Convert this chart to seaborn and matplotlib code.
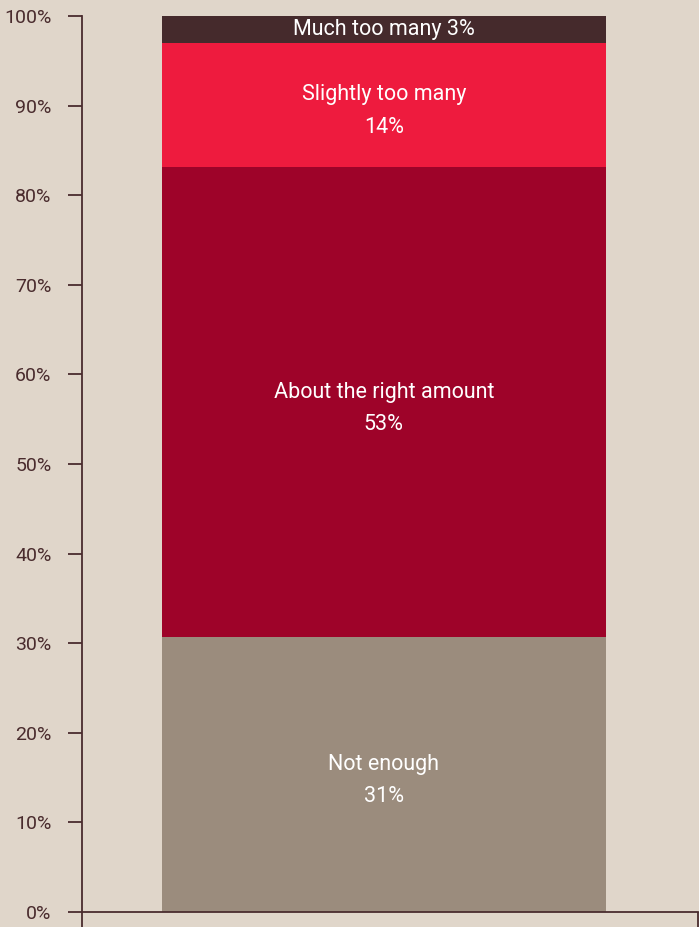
import matplotlib
matplotlib.use("Agg")
import matplotlib.pyplot as plt
import seaborn as sns
import pandas as pd
import numpy as np
from matplotlib.ticker import FixedLocator

# Survey answers, stacked bottom to top
categories = ["Not enough", "About the right amount", "Slightly too many", "Much too many"]
shares = [31, 53, 14, 3]
colors = ["#9b8c7d", "#9e0329", "#ee1b3e", "#452a2c"]
tick_values = [0, 10, 20, 30, 40, 50, 60, 70, 80, 90, 100]
tick_labels = ["0%", "10%", "20%", "30%", "40%", "50%", "60%", "70%", "80%", "90%", "100%"]

BG = "#e0d6ca"
INK = "#4a2c2e"

sns.set_theme(style="white")
plt.rcParams["font.family"] = ["Roboto", "DejaVu Sans"]

# Rounded shares add up to 101, so stack them as proportions of the total
df = pd.DataFrame({"category": categories, "share": shares})
df["height"] = df["share"] / df["share"].sum() * 100
df["bottom"] = df["height"].cumsum() - df["height"]
df["group"] = "all"

fig = plt.figure(figsize=(6.99, 9.27), dpi=100, facecolor=BG)
ax = fig.add_axes([82 / 699, 15 / 927, 616 / 699, 896 / 927])
ax.set_facecolor(BG)

# Draw the segments from the top down so each lower segment covers the one above
for i in range(len(df) - 1, -1, -1):
    top = df["bottom"].iloc[i] + df["height"].iloc[i]
    sub = pd.DataFrame({"group": ["all"], "top": [top]})
    sns.barplot(data=sub, x="group", y="top", color=colors[i], width=0.72,
                saturation=1, ax=ax, linewidth=0, edgecolor="none")

ax.set_xlim(-0.49, 0.51)
ax.set_ylim(0, 100)

# Segment labels
for i, row in df.iterrows():
    mid = row["bottom"] + row["height"] / 2
    if row["category"] == "Much too many":
        txt = f"{row['category']} {row['share']}%"
    else:
        txt = f"{row['category']}\n{row['share']}%"
    ax.text(0, mid - 0.7 if "\n" in txt else mid, txt, ha="center", va="center",
            color="white", fontsize=15.5, linespacing=1.7)

ax.yaxis.set_major_locator(FixedLocator(tick_values))
ax.set_yticklabels(tick_labels)
ax.set_xticks([-0.49, 0.51])
ax.set_xticklabels(["", ""])
ax.set_xlabel("")
ax.set_ylabel("")

for side in ["top", "right"]:
    ax.spines[side].set_visible(False)
for side in ["left", "bottom"]:
    ax.spines[side].set_color(INK)
    ax.spines[side].set_linewidth(1.3)

ax.tick_params(axis="y", direction="out", length=10, width=1.3, color=INK,
               labelcolor=INK, labelsize=14, pad=12, left=True)
ax.tick_params(axis="x", direction="out", length=11, width=1.3, color=INK, bottom=True)

fig.savefig("out.png", dpi=100, facecolor=BG)
